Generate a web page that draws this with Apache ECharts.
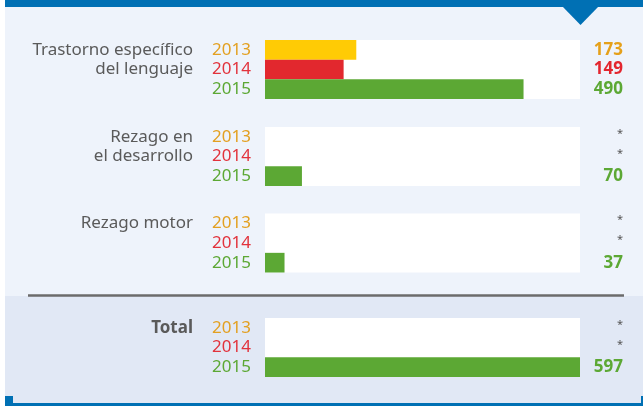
<!DOCTYPE html>
<html>
<head>
<meta charset="utf-8">
<script src="https://cdn.jsdelivr.net/npm/echarts@6/dist/echarts.min.js"></script>
<style>
html,body{margin:0;padding:0;background:#fff;}
#chart{width:643px;height:406px;}
</style>
</head>
<body>
<div id="chart"></div>
<script>
// ---- data ----
const categories = [['Trastorno específico', 'del lenguaje'], ['Rezago en', 'el desarrollo'], ['Rezago motor'], ['Total']];
const years = ['2013', '2014', '2015'];
const values2013 = [173, null, null, null];
const values2014 = [149, null, null, null];
const values2015 = [490, 70, 37, 597];
const xMax = 597;

// ---- style ----
const FONT = 'Noto Sans';
const barColors = ['#ffcb05', '#e2282e', '#5ca834'];
const yearColors = ['#e3a021', '#e2323c', '#5ca834'];
const valueColors = ['#e5a01a', '#e3262f', '#5ca834'];
const gridTops = [40, 127, 213.5, 318];
const gridH = 59;
const gridLeft = 265, gridW = 315;

const grids = [], xAxes = [], yAxes = [], series = [], graphics = [];

// background panels
graphics.push({type:'rect', shape:{x:5, y:0, width:638, height:403}, style:{fill:'#eef3fb'}, z:-10, silent:true});
graphics.push({type:'rect', shape:{x:5, y:296, width:638, height:107}, style:{fill:'#e1e8f5'}, z:-9, silent:true});
graphics.push({type:'rect', shape:{x:5, y:0, width:638, height:7}, style:{fill:'#0070b4'}, z:-8, silent:true});
graphics.push({type:'polygon', shape:{points:[[562,6],[599,6],[580.5,25]]}, style:{fill:'#0070b4'}, z:-8, silent:true});
graphics.push({type:'line', shape:{x1:28, y1:295.5, x2:624, y2:295.5}, style:{stroke:'#6b6b6b', lineWidth:2.5}, z:-7, silent:true});
graphics.push({type:'rect', shape:{x:5, y:403, width:638, height:3}, style:{fill:'#0070b4'}, z:-8, silent:true});
graphics.push({type:'rect', shape:{x:5, y:396, width:8, height:10}, style:{fill:'#0070b4'}, z:-8, silent:true});
graphics.push({type:'rect', shape:{x:641, y:396, width:2, height:10}, style:{fill:'#0070b4'}, z:-8, silent:true});

categories.forEach((cat, g) => {
  const vals = [values2013[g], values2014[g], values2015[g]];
  grids.push({left:gridLeft, top:gridTops[g], width:gridW, height:gridH, show:true, backgroundColor:'#ffffff', borderWidth:0, containLabel:false});
  xAxes.push({type:'value', gridIndex:g, min:0, max:xMax, show:false});
  yAxes.push({
    type:'category', gridIndex:g, data:years, inverse:true, position:'left',
    axisLine:{show:false}, axisTick:{show:false},
    axisLabel:{interval:0, hideOverlap:false, margin:14, fontFamily:FONT, fontSize:17,
      formatter:(v, i) => '{y' + i + '|' + v + '}',
      rich:{
        y0:{color:yearColors[0], fontSize:17, fontFamily:FONT},
        y1:{color:yearColors[1], fontSize:17, fontFamily:FONT},
        y2:{color:yearColors[2], fontSize:17, fontFamily:FONT}
      }}
  });
  yAxes.push({
    type:'category', gridIndex:g, data:years, inverse:true, position:'right',
    axisLine:{show:false}, axisTick:{show:false},
    axisLabel:{
      interval:0, hideOverlap:false, margin:43, align:'right', fontFamily:FONT,
      formatter:(v, i) => vals[i] == null ? '{s|*}' : '{v' + i + '|' + vals[i] + '}',
      rich:{
        v0:{color:valueColors[0], fontWeight:'bold', fontSize:17, fontFamily:FONT},
        v1:{color:valueColors[1], fontWeight:'bold', fontSize:17, fontFamily:FONT},
        v2:{color:valueColors[2], fontWeight:'bold', fontSize:17, fontFamily:FONT},
        s:{color:'#555555', fontSize:11, fontFamily:FONT, padding:[0,0,6,0]}
      }
    }
  });
  series.push({
    type:'bar', xAxisIndex:g, yAxisIndex:g*2, barCategoryGap:'0%', silent:true,
    data: vals.map((v, i) => ({value:v, itemStyle:{color:barColors[i]}}))
  });
  graphics.push({
    type:'text', x:193, y:gridTops[g], silent:true,
    style:{text:cat.join('\n'), align:'right', verticalAlign:'top', lineHeight:19.6,
      font:(g === 3 ? 'bold ' : '') + '17px "' + FONT + '"', fill:'#5a5a5a'}
  });
});

const chart = echarts.init(document.getElementById('chart'), null, {renderer:'canvas'});
chart.setOption({
  animation:false,
  backgroundColor:'#ffffff',
  grid:grids, xAxis:xAxes, yAxis:yAxes, series:series, graphic:graphics
});
</script>
</body>
</html>
